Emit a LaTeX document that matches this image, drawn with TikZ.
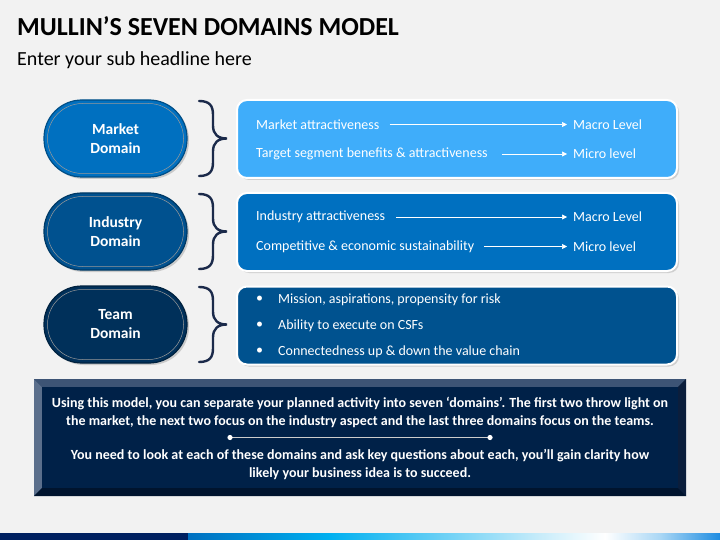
\documentclass[tikz,border=0pt]{standalone}
\usepackage{fontspec}
\setmainfont{Carlito}
\usetikzlibrary{arrows.meta,shadows,calc}
\definecolor{bg}{HTML}{F2F2F2}
\definecolor{mkt}{HTML}{0070C0}
\definecolor{ind}{HTML}{00518F}
\definecolor{team}{HTML}{00305A}
\definecolor{mktbox}{HTML}{3FADFA}
\definecolor{indbox}{HTML}{0070C0}
\definecolor{teambox}{HTML}{00528F}
\definecolor{bracec}{HTML}{1B2A4A}
\definecolor{panel}{HTML}{002148}
\definecolor{bevtop}{HTML}{3D5475}
\definecolor{bevleft}{HTML}{5B6F8C}
\definecolor{bevbot}{HTML}{00142E}
\definecolor{bevright}{HTML}{0B1E3C}
\definecolor{navy}{HTML}{002060}
\definecolor{cyan1}{RGB}{0,176,240}
\definecolor{pale1}{RGB}{200,236,250}
\definecolor{pale2}{RGB}{170,215,245}
\definecolor{blue2}{RGB}{30,140,225}
\tikzset{
  dom/.style={minimum width=143pt,minimum height=77pt,rounded corners=38pt,
    draw=#1!70!black,line width=1.2pt,fill=#1,text=white,
    font=\bfseries\fontsize{15.5}{19}\selectfont,align=center,
    drop shadow={shadow xshift=2pt,shadow yshift=-2pt,opacity=0.35}},
  domin/.style={minimum width=136pt,minimum height=70pt,rounded corners=35pt,
    draw=white!60!black,line width=0.5pt},
  infobox/.style={minimum width=440pt,minimum height=78pt,rounded corners=10pt,
    draw=white,line width=2pt,fill=#1,
    drop shadow={shadow xshift=2pt,shadow yshift=-2pt,opacity=0.3}},
  itxt/.style={anchor=west,inner sep=0pt,text=white,font=\fontsize{14}{16}\selectfont},
  larrow/.style={draw=white,line width=0.7pt,-{Triangle[length=5pt,width=5pt]}},
  bracestyle/.style={draw=bracec,line width=2.4pt,line cap=round},
  ptxt/.style={text=white,font=\bfseries\fontsize{14}{18}\selectfont,align=center,inner sep=0pt},
}
\newcommand\domainbrace[2]{%
  \pgfmathsetmacro\bmid{(#1+#2)/2}%
  \draw[bracestyle] (199,#1) .. controls (210,#1) and (213,#1+5) .. (213,#1+14)
    -- (213,\bmid-13) .. controls (213,\bmid-4) and (218,\bmid) .. (227,\bmid)
    .. controls (218,\bmid) and (213,\bmid+4) .. (213,\bmid+13)
    -- (213,#2-14) .. controls (213,#2-5) and (210,#2) .. (199,#2);}
\begin{document}
\begin{tikzpicture}[x=1pt,y=-1pt]
\fill[bg] (0,0) rectangle (720,540);
\useasboundingbox (0,0) rectangle (720,540);
% titles
\node[anchor=base west,inner sep=0pt,font=\bfseries\fontsize{26}{30}\selectfont] (title) at (17,36) {MULLIN’S SEVEN DOMAINS MODEL};
\node[anchor=base west,inner sep=0pt,font=\fontsize{20}{24}\selectfont] (sub) at (17,66) {Enter your sub headline here};
% domains
\node[dom=mkt] (md) at (115.5,138.5) {Market\\Domain};
\node[domin] at (md) {};
\node[dom=ind] (id) at (115.5,231.5) {Industry\\Domain};
\node[domin] at (id) {};
\node[dom=team] (td) at (115.5,324.5) {Team\\Domain};
\node[domin] at (td) {};
% braces
\domainbrace{101}{176}
\domainbrace{194}{269}
\domainbrace{287}{362}
% boxes
\node[infobox=mktbox] (mb) at (457,139) {};
\node[infobox=indbox] (ib) at (457,232) {};
\node[infobox=teambox] (tb) at (457,325.5) {};
% market box text
\node[itxt] (m1) at (256,124.5) {Market attractiveness};
\node[itxt] (m1l) at (573,124.5) {Macro Level};
\node[itxt] (m2) at (256,154) {Target segment benefits \& attractiveness};
\node[itxt] (m2l) at (573,154) {Micro level};
\draw[larrow] ([xshift=10pt]m1.east) -- ([xshift=-6pt]m1l.west);
\draw[larrow] ([xshift=14pt]m2.east) -- ([xshift=-6pt]m2l.west);
% industry box text
\node[itxt] (i1) at (256,217) {Industry attractiveness};
\node[itxt] (i1l) at (573,217) {Macro Level};
\node[itxt] (i2) at (256,246.5) {Competitive \& economic sustainability};
\node[itxt] (i2l) at (573,246.5) {Micro level};
\draw[larrow] ([xshift=11pt]i1.east) -- ([xshift=-6pt]i1l.west);
\draw[larrow] ([xshift=10pt]i2.east) -- ([xshift=-6pt]i2l.west);
% team box text
\foreach \yy/\tt/\nn in {299.5/{Mission, aspirations, propensity for risk}/t1,
                         325.5/{Ability to execute on CSFs}/t2,
                         351.5/{Connectedness up \& down the value chain}/t3}{
  \node[itxt] (\nn b) at (256,\yy) {•};
  \node[itxt] (\nn) at (278,\yy) {\tt};
}
% bottom panel with bevel
\fill[panel!80!black] (34,379) rectangle (686,496);
\fill[bevtop] (34,379) -- (686,379) -- (678,387) -- (42,387) -- cycle;
\fill[bevleft] (34,379) -- (42,387) -- (42,488) -- (34,496) -- cycle;
\fill[bevbot] (34,496) -- (42,488) -- (678,488) -- (686,496) -- cycle;
\fill[bevright] (686,379) -- (686,496) -- (678,488) -- (678,387) -- cycle;
\fill[panel] (42,387) rectangle (678,488);
\node[ptxt] (p1) at (360,412) {Using this model, you can separate your planned activity into seven ‘domains’. The first two throw light on\\the market, the next two focus on the industry aspect and the last three domains focus on the teams.};
\node[ptxt] (p2) at (360,465) {You need to look at each of these domains and ask key questions about each, you’ll gain clarity how\\likely your business idea is to succeed.};
\coordinate (dl) at (230,437.5);
\coordinate (dr) at (490,437.5);
\draw[white!80!black,line width=1.2pt] (dl) -- (dr);
\fill[white] (dl) circle (2.6pt) (dr) circle (2.6pt);
% bottom strip
\fill[navy] (0,533) rectangle (188,540);
\shade[left color=mkt,right color=cyan1] (188,533) rectangle (330,540);
\shade[left color=cyan1,right color=pale1] (330,533) rectangle (540,540);
\shade[left color=pale1,right color=white] (540,533) rectangle (605,540);
\shade[left color=white,right color=pale2] (605,533) rectangle (660,540);
\shade[left color=pale2,right color=blue2] (660,533) rectangle (720,540);
\end{tikzpicture}
\end{document}
